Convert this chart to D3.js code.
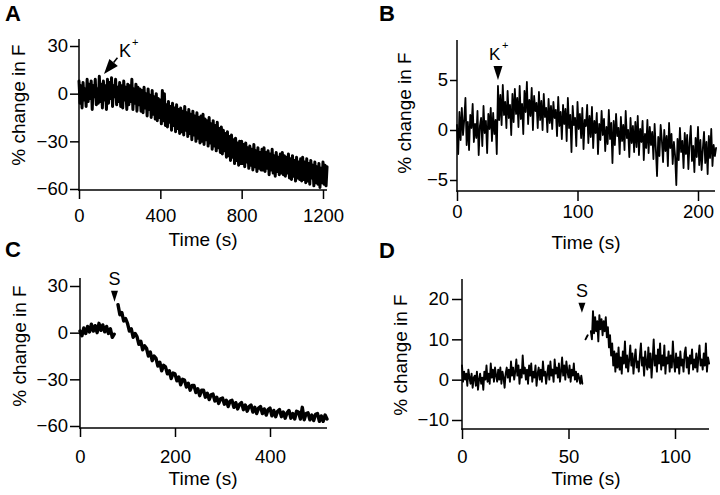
<!DOCTYPE html>
<html><head><meta charset="utf-8">
<script src="https://cdn.jsdelivr.net/npm/d3@7"></script>
<style>
html,body{margin:0;padding:0;background:#fff;}
svg{display:block;}
text{font-family:"Liberation Sans",Arial,Helvetica,sans-serif;fill:#000;font-weight:normal;}
</style></head><body>
<svg id="chart" width="720" height="495"></svg>
<script>
// ---------------- DATA ----------------
// Panel A: % change in F, sampled every 5 s from 0 s
const traceA_start = 0, traceA_step = 5;
const traceA = [
 8,-6,5,-9,7,-4,3,-8,9,-5,6,-3,8,-10,5,-2,9,-7,3,-6,
 11,-5,6,-9,8,-4,5,-10,9,-6,7,-3,10,-8,5,-2,9,-7,4,-5,
 7,-8,5,-9,8,-4,4,-10,6,-7,5,-5,9,-10,3,-6,6,-11,4,-7,
 3,-11,2,-12,4,-9,0,-14,3,-10,-1,-15,2,-13,-2,-16,0,-17,-3,-15,
 -4,-19,2,-17,0,-20,-7,-21,-5,-18,-8,-23,-6,-20,-9,-24,-7,-22,-10,-25,
 -9,-24,-11,-26,-8,-23,-12,-27,-10,-25,-13,-29,-11,-26,-14,-30,-12,-28,-15,-31,
 -14,-30,-13,-32,-16,-29,-17,-33,-15,-31,-19,-35,-17,-33,-20,-36,-18,-34,-22,-37,
 -21,-38,-23,-36,-25,-40,-24,-39,-27,-42,-26,-40,-29,-44,-28,-42,-31,-45,-30,-44,
 -30,-44,-32,-46,-31,-43,-34,-47,-33,-45,-35,-48,-32,-46,-36,-49,-34,-47,-37,-48,
 -35,-48,-34,-49,-37,-47,-36,-51,-38,-48,-35,-50,-39,-52,-37,-49,-40,-51,-38,-50,
 -37,-51,-39,-52,-40,-50,-38,-53,-41,-54,-39,-52,-42,-55,-40,-53,-43,-54,-41,-55,
 -40,-54,-43,-56,-41,-55,-44,-57,-42,-53,-45,-58,-43,-56,-46,-57,-44,-59,-47,-56,
 -43,-57,-45,-58,-46
];
// Panel B: sampled every 1 s from 0 s
const traceB_start = 0, traceB_step = 1;
const traceB = [
 0.5,-2.4,1.8,-1.0,2.2,-0.5,1.0,3.2,-1.5,0.8,-2.0,1.5,0.2,2.6,-1.2,0.6,-0.8,1.9,-2.5,0.4,
 1.2,-1.6,2.4,-0.3,0.9,-2.3,1.6,0.1,2.2,-1.1,1.7,-0.4,1.0,-2.4,
 4.4,1.0,3.5,0.5,4.5,1.5,2.8,0.2,3.9,1.2,2.5,-0.5,3.6,0.8,4.1,1.6,
 3.2,0.3,4.4,1.1,2.6,-0.4,3.9,1.8,4.8,0.6,3.0,1.4,4.2,0.0,3.4,1.9,2.7,0.2,3.8,1.0,
 2.9,0.0,3.6,1.3,2.2,-0.2,3.1,0.7,2.4,0.1,2.8,1.2,2.0,-0.6,3.3,0.4,1.8,-0.9,2.5,0.6,
 2.1,-1.1,3.2,0.2,1.5,-2.2,2.4,0.5,1.2,-1.6,2.8,0.1,1.6,-0.8,2.2,-1.9,1.0,0.4,2.5,-1.3,
 1.4,-0.7,2.3,-1.8,0.9,-0.3,1.7,-2.4,0.6,-1.0,1.9,-0.5,1.1,-2.1,0.3,-1.4,2.0,-0.9,0.7,-3.3,
 0.9,-1.5,1.6,-0.6,0.2,-2.4,1.3,-1.1,0.5,-2.0,1.9,-0.8,0.0,-2.7,1.2,-1.3,0.4,-2.2,0.8,-1.7,
 1.4,-2.5,0.1,-1.2,0.9,-3.0,-0.4,-1.8,1.0,-2.3,0.3,-1.5,-0.2,-2.9,0.6,-1.9,-4.6,-0.7,-2.6,0.5,
 -1.0,-3.2,0.0,-2.1,-0.6,-3.6,0.7,-1.8,-0.4,-3.4,-1.2,-2.6,-5.5,-0.9,-3.0,0.2,-2.2,-1.1,-3.8,-0.3,
 -2.4,-0.5,-3.9,-1.3,0.4,-3.1,-1.6,-4.2,-0.8,-2.7,0.3,-3.5,-1.0,-4.0,-1.9,-0.2,-3.3,-1.2,-4.4,-0.6,
 -2.8,0.1,-3.6,-1.5,-2.6,-1.8
];
// Panel C: sampled every 4 s from 0 s (null = no recording)
const traceC_start = 0, traceC_step = 4;
const traceC = [
 1.0,-2.0,3.0,-0.5,4.0,0.5,5.5,1.0,4.5,0.0,6.0,1.5,5.0,0.5,4.0,-0.5,2.5,-3.0,-1.0,
 null,
 18.0,11.5,13.0,7.5,9.0,
 6.0,1.0,2.5,-3.0,-0.5,
 -2.5,-7.5,-5.5,-11.0,-8.5,
 -10.0,-15.0,-12.5,-18.0,-15.0,
 -16.5,-21.5,-19.0,-24.5,-21.0,
 -22.0,-26.5,-24.5,-29.5,-26.0,
 -26.5,-31.0,-28.5,-33.5,-30.0,
 -30.5,-35.0,-32.5,-37.0,-34.0,
 -34.0,-38.5,-36.0,-40.5,-37.0,
 -37.0,-41.5,-39.0,-43.0,-40.0,
 -39.5,-44.0,-41.5,-45.5,-42.5,
 -42.0,-46.0,-43.5,-47.5,-44.0,
 -43.5,-48.0,-45.0,-49.0,-46.0,
 -45.0,-49.5,-46.5,-50.5,-47.5,
 -46.5,-51.0,-48.0,-52.0,-48.5,
 -47.5,-52.0,-49.0,-53.0,-49.5,
 -48.5,-53.5,-50.0,-54.0,-50.5,
 -49.5,-54.0,-51.0,-55.0,-51.5,
 -50.0,-55.0,-52.0,-55.5,-50.5,
 -51.0,-55.5,-48.0,-56.0,-52.0,
 -51.5,-56.0,-53.0,-56.5,-52.5,
 -52.0,-57.0,-53.5,-57.0,-53.0,
 -55.5
];
// Panel D: sampled every 0.5 s from 0 s (null = no recording)
const traceD_start = 0, traceD_step = 0.5;
const traceD = [
 3.5,-0.5,2.0,0.0,1.5,-1.5,2.5,0.5,-1.0,1.5,-2.0,0.5,1.0,-1.5,2.0,-2.5,0.0,1.5,-1.0,0.5,
 -2.5,2.0,0.0,3.5,-0.5,1.5,-1.0,4.0,0.5,2.5,-0.5,3.0,1.0,-0.5,2.5,0.0,3.0,-1.0,2.0,0.5,
 -2.0,1.5,3.0,0.5,2.5,-0.5,4.5,1.0,3.0,0.0,2.0,5.0,1.0,3.5,-1.0,2.5,0.5,6.0,1.5,3.0,
 0.0,2.5,-1.0,3.5,1.0,4.0,-0.5,2.0,0.5,3.5,-1.5,1.5,3.0,0.0,2.5,-0.5,4.5,1.0,2.0,-1.0,
 1.5,3.5,0.0,4.5,1.0,2.5,-0.5,5.0,1.5,3.0,0.5,4.0,-0.5,2.0,5.5,1.0,3.5,0.0,4.5,2.0,
 0.5,3.5,-0.5,2.5,1.0,4.0,0.0,2.0,-0.5,1.5,0.5,-1.0,1.0,-1.0,
 null,null,
 10.0,10.5,11.0,
 null,null,
 12.0,10.0,17.0,11.5,15.5,12.0,14.5,9.5,16.0,12.5,15.0,11.0,14.5,12.0,15.5,
 10.5,13.0,8.0,11.0,6.0,9.0,3.5,7.0,2.0,
 6.5,3.0,8.0,2.5,5.5,1.5,7.0,4.0,9.5,3.0,6.0,2.0,5.0,8.5,3.5,6.5,1.5,5.0,7.5,3.0,
 4.5,2.0,6.0,9.0,3.5,5.5,1.0,7.0,4.0,2.5,8.0,3.0,6.5,0.5,5.0,10.0,3.5,6.0,2.0,7.5,
 4.0,9.0,2.5,6.0,3.5,8.5,1.5,5.5,4.0,7.0,2.0,6.0,3.0,9.5,4.5,2.0,6.5,3.0,5.5,1.5,
 7.0,3.5,5.0,2.0,6.5,8.0,3.0,5.5,1.5,6.0,4.0,7.5,2.5,5.0,3.0,6.5,2.0,5.5,8.5,3.5,
 5.0,2.5,6.5,3.5,9.0,2.0,5.5,4.0
];
// Tick labels
const ticksA_x = [0, 400, 800, 1200], ticksA_y = [-60, -30, 0, 30];
const ticksB_x = [0, 100, 200],       ticksB_y = [-5, 0, 5];
const ticksC_x = [0, 200, 400],       ticksC_y = [-60, -30, 0, 30];
const ticksD_x = [0, 50, 100],        ticksD_y = [-10, 0, 10, 20];
// Stimulus annotations: time (s) and value at arrow tip
const stimA = {label: "K", sup: "+", t: 123, v: 12.4};
const stimB = {label: "K", sup: "+", t: 34, v: 5.0};
const stimC = {label: "S", t: 72.6, v: 19.9};
const stimD = {label: "S", t: 56.3, v: 16.6};
const panelLetters = ["A", "B", "C", "D"];
const xTitle = "Time (s)", yTitle = "% change in F";

// ---------------- LAYOUT ----------------
const svg = d3.select("#chart");
const panels = [
 {letter: panelLetters[0], lx: 5, ly: 21, data: traceA, start: traceA_start, step: traceA_step, sw: 3.0,
  xd: [0,1200], xr: [79,323], xAxisEnd: 327, xAxisY: 190,
  yd: [-60,30], yr: [189,46], yAxisTop: 39, yAxisX: 79,
  xTicks: ticksA_x, yTicks: ticksA_y, xTS: 9, xBase: 222, yTS: 9, yPad: 2,
  titleX: 203, titleY: 246, yTitleX: 25, yTitleY: 105},
 {letter: panelLetters[1], lx: 379, ly: 21, data: traceB, start: traceB_start, step: traceB_step, sw: 1.8,
  xd: [0,200], xr: [457,698], xAxisEnd: 715, xAxisY: 191,
  yd: [-5,5], yr: [180,80], yAxisTop: 40, yAxisX: 457,
  xTicks: ticksB_x, yTicks: ticksB_y, xTS: 10, xBase: 218, yTS: 7, yPad: 2,
  titleX: 586, titleY: 249, yTitleX: 411, yTitleY: 113},
 {letter: panelLetters[2], lx: 5, ly: 257, data: traceC, start: traceC_start, step: traceC_step, sw: 3.4,
  xd: [0,400], xr: [80,270], xAxisEnd: 327, xAxisY: 428,
  yd: [-60,30], yr: [426,286], yAxisTop: 278, yAxisX: 80,
  xTicks: ticksC_x, yTicks: ticksC_y, xTS: 9, xBase: 463, yTS: 10, yPad: 2,
  titleX: 203, titleY: 485, yTitleX: 26, yTitleY: 346},
 {letter: panelLetters[3], lx: 379, ly: 258, data: traceD, start: traceD_start, step: traceD_step, sw: 1.9,
  xd: [0,100], xr: [462,675], xAxisEnd: 709, xAxisY: 429,
  yd: [-10,20], yr: [420,299], yAxisTop: 279, yAxisX: 462,
  xTicks: ticksD_x, yTicks: ticksD_y, xTS: 10, xBase: 463, yTS: 10, yPad: 3,
  titleX: 586, titleY: 485, yTitleX: 407, yTitleY: 355}
];

const TICK_FS = 18.5, TITLE_FS = 19;
const fmt = d3.format("d");

panels.forEach(p => {
  const x = d3.scaleLinear().domain(p.xd).range(p.xr);
  const y = d3.scaleLinear().domain(p.yd).range(p.yr);
  p.x = x; p.y = y;
  const g = svg.append("g");

  const line = d3.line()
    .defined(d => d !== null)
    .x((d, i) => x(p.start + i * p.step))
    .y(d => y(d));
  g.append("path")
    .datum(p.data)
    .attr("fill", "none")
    .attr("stroke", "#000")
    .attr("stroke-width", p.sw)
    .attr("stroke-linejoin", "round")
    .attr("stroke-linecap", "round")
    .attr("d", line);

  const yAxis = d3.axisLeft(y).tickValues(p.yTicks).tickFormat(fmt).tickSize(p.yTS).tickPadding(p.yPad).tickSizeOuter(0);
  const gy = g.append("g").attr("transform", `translate(${p.yAxisX},0)`).call(yAxis);
  gy.attr("font-family", null).attr("font-size", null);
  gy.select(".domain").remove();
  gy.selectAll(".tick line").attr("stroke", "#000").attr("stroke-width", 1.5);
  gy.selectAll(".tick text").attr("font-size", TICK_FS).attr("fill", "#000");

  const xAxis = d3.axisBottom(x).tickValues(p.xTicks).tickFormat(fmt).tickSize(p.xTS).tickSizeOuter(0);
  const gx = g.append("g").attr("transform", `translate(0,${p.xAxisY})`).call(xAxis);
  gx.attr("font-family", null).attr("font-size", null);
  gx.select(".domain").remove();
  gx.selectAll(".tick line").attr("stroke", "#000").attr("stroke-width", 1.5);
  gx.selectAll(".tick text").attr("font-size", TICK_FS).attr("fill", "#000")
    .attr("dy", null).attr("y", p.xBase - p.xAxisY);

  g.append("line").attr("x1", p.yAxisX).attr("x2", p.yAxisX)
    .attr("y1", p.yAxisTop).attr("y2", p.xAxisY + 0.75)
    .attr("stroke", "#000").attr("stroke-width", 1.5);
  g.append("line").attr("x1", p.yAxisX - 0.75).attr("x2", p.xAxisEnd)
    .attr("y1", p.xAxisY).attr("y2", p.xAxisY)
    .attr("stroke", "#000").attr("stroke-width", 1.5);

  g.append("text").attr("x", p.titleX).attr("y", p.titleY)
    .attr("text-anchor", "middle").attr("font-size", TITLE_FS).text(xTitle);
  g.append("text").attr("transform", `translate(${p.yTitleX},${p.yTitleY}) rotate(-90)`)
    .attr("text-anchor", "middle").attr("font-size", TITLE_FS).text(yTitle);

  svg.append("text").attr("x", p.lx).attr("y", p.ly)
    .attr("font-size", 22).style("font-weight", "bold").text(p.letter);
});

// ---------------- ANNOTATIONS ----------------
function downTriangle(cx, tipY, w, h) {
  return `M${cx - w/2},${tipY - h} L${cx + w/2},${tipY - h} L${cx},${tipY} Z`;
}
{
  const p = panels[0];
  const tx = p.x(stimA.t), ty = p.y(stimA.v);
  const ang = Math.atan2(-12, 10);
  const len = 15, hw = 5.5;
  const ux = Math.cos(ang), uy = Math.sin(ang);
  const bx = tx + ux * len, by = ty + uy * len;
  const px = -uy, py = ux;
  svg.append("line").attr("x1", bx).attr("y1", by).attr("x2", tx + ux * 21).attr("y2", ty + uy * 21)
    .attr("stroke", "#000").attr("stroke-width", 1.6);
  svg.append("path")
    .attr("d", `M${tx},${ty} L${bx + px*hw},${by + py*hw} L${bx - px*hw},${by - py*hw} Z`)
    .attr("fill", "#000");
  svg.append("text").attr("x", tx + 15).attr("y", ty - 17).attr("font-size", 18).text(stimA.label);
  svg.append("text").attr("x", tx + 28).attr("y", ty - 28).attr("font-size", 11).text(stimA.sup);
}
{
  const p = panels[1];
  const tx = p.x(stimB.t), ty = p.y(stimB.v);
  svg.append("path").attr("d", downTriangle(tx, ty, 9, 14)).attr("fill", "#000");
  svg.append("text").attr("x", tx - 9).attr("y", ty - 20).attr("font-size", 17).text(stimB.label);
  svg.append("text").attr("x", tx + 4).attr("y", ty - 31).attr("font-size", 11).text(stimB.sup);
}
[[panels[2], stimC, 7, 11], [panels[3], stimD, 7, 10]].forEach(([p, s, w, h]) => {
  const tx = p.x(s.t), ty = p.y(s.v);
  svg.append("path").attr("d", downTriangle(tx, ty, w, h)).attr("fill", "#000");
  svg.append("text").attr("x", tx).attr("y", ty - h - 6).attr("text-anchor", "middle")
    .attr("font-size", 18).text(s.label);
});
</script>
</body></html>
